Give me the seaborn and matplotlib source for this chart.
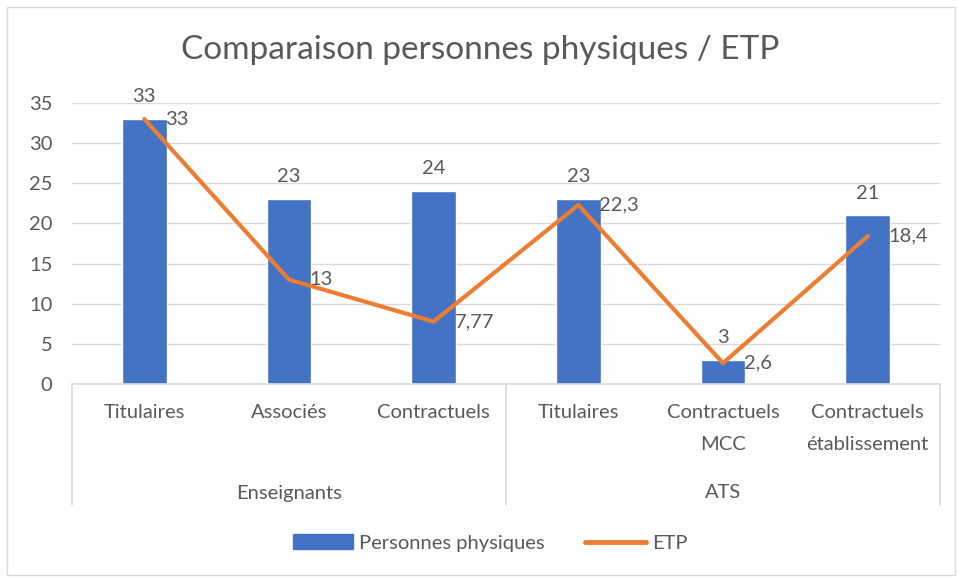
import matplotlib
matplotlib.use("Agg")
import matplotlib.pyplot as plt
import matplotlib.transforms as mtransforms
from matplotlib.patches import Rectangle
from matplotlib.lines import Line2D
import seaborn as sns
import pandas as pd
import numpy as np

categories = ["Titulaires", "Associés", "Contractuels", "Titulaires", "Contractuels\nMCC", "Contractuels\nétablissement"]
groups = ["Enseignants", "ATS"]
group_sizes = [3, 3]
personnes = [33, 23, 24, 23, 3, 21]
etp = [33, 13, 7.77, 22.3, 2.6, 18.4]
yticks = [0, 5, 10, 15, 20, 25, 30, 35]

BLUE = "#4472C4"
ORANGE = "#ED7D31"
TXT = "#595959"
GRID = "#D9D9D9"
FS = 14.5

sns.set_theme(style="white")
plt.rcParams["font.family"] = ["Lato", "DejaVu Sans"]

df = pd.DataFrame({"pos": list(range(len(categories))), "pp": personnes, "etp": etp})

fig = plt.figure(figsize=(9.6, 5.79), dpi=100)
ax = fig.add_axes([72/960, 1-384/579, (940-72)/960, 281/579])

sns.barplot(data=df, x="pos", y="pp", color=BLUE, width=0.31, ax=ax, saturation=1, native_scale=True)
sns.lineplot(data=df, x="pos", y="etp", color=ORANGE, linewidth=3, ax=ax)

ax.set_xlim(-0.5, len(categories) - 0.5)
ax.set_ylim(0, 35)
ax.set_yticks(yticks)
ax.set_yticklabels([str(t) for t in yticks], color=TXT, fontsize=FS)
ax.tick_params(axis="y", length=0, pad=14)
ax.set_xticks([])
ax.set_xlabel("")
ax.set_ylabel("")
for s in ax.spines.values():
    s.set_visible(False)
for t in yticks[1:]:
    ax.axhline(t, color=GRID, linewidth=1, zorder=0)

# data labels
for i, (p, e) in enumerate(zip(personnes, etp)):
    ax.annotate(str(p), (i, p), xytext=(0, 10), textcoords="offset points",
                ha="center", va="bottom", fontsize=FS, color=TXT)
    lab = (f"{e:g}").replace(".", ",")
    ax.annotate(lab, (i, e), xytext=(15, 0), textcoords="offset points",
                ha="left", va="center", fontsize=FS, color=TXT)

# category axis
trans = mtransforms.blended_transform_factory(ax.transData, ax.transAxes)
ax.plot([0, 1], [0, 0], transform=ax.transAxes, color=GRID, lw=1.2, clip_on=False)
ybot = -(505-384)/281
starts = np.cumsum([0] + group_sizes)
for b in starts:
    ax.plot([b - 0.5, b - 0.5], [0, ybot], transform=trans, color=GRID, lw=1.2, clip_on=False)
ylab = -(404-384)/281
for i, c in enumerate(categories):
    ax.text(i, ylab, c, transform=trans, ha="center", va="top", fontsize=FS,
            color=TXT, linespacing=2.1)
ygrp = -(493-384)/281
for g, s0, n in zip(groups, starts[:-1], group_sizes):
    ax.text(s0 + (n - 1) / 2, ygrp, g, transform=trans, ha="center", va="center",
            fontsize=FS, color=TXT)

fig.text(0.5, 1-50/579, "Comparaison personnes physiques / ETP", ha="center", va="center",
         fontsize=24, color=TXT)

handles = [Rectangle((0, 0), 1, 1, color=BLUE), Line2D([0], [0], color=ORANGE, lw=3.5)]
fig.legend(handles, ["Personnes physiques", "ETP"], loc="center", bbox_to_anchor=(490/960, 1-543/579),
           ncol=2, frameon=False, fontsize=FS, labelcolor=TXT, handlelength=3.0,
           handletextpad=0.3, columnspacing=2.0)

fig.patches.append(Rectangle((7/960, 4/579), 948/960, 568/579, transform=fig.transFigure,
                             fill=False, edgecolor=GRID, lw=1))
fig.savefig("out.png", dpi=100)
